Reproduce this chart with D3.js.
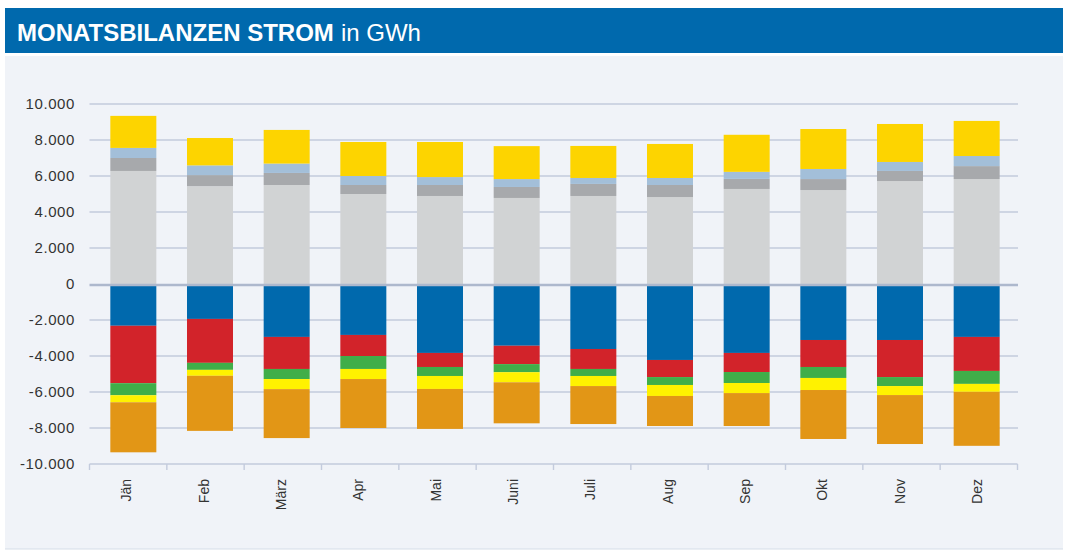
<!DOCTYPE html>
<html>
<head>
<meta charset="utf-8">
<script src="https://d3js.org/d3.v7.min.js"></script>
<style>
  body { margin: 0; background: #fff; }
  text { font-family: "Liberation Sans", Arial, sans-serif; }
</style>
</head>
<body>
<script>
// Monate
var months = ["Jän", "Feb", "März", "Apr", "Mai", "Juni", "Juli", "Aug", "Sep", "Okt", "Nov", "Dez"];

// Verwendung (positiv, von unten nach oben)
var endverbrauch = [6280, 5440, 5500, 5000, 4890, 4780, 4890, 4830, 5280, 5220, 5720, 5830];
var eigenbedarf  = [720, 610, 670, 500, 610, 610, 670, 670, 560, 610, 560, 720];
var pumpstrom    = [560, 540, 520, 500, 440, 440, 330, 390, 390, 560, 500, 560];
var exporte      = [1780, 1520, 1870, 1890, 1950, 1830, 1780, 1890, 2060, 2220, 2110, 1950];

// Aufbringung (negativ, von oben nach unten)
var wasserkraft  = [2320, 1940, 2940, 2830, 3830, 3430, 3610, 4220, 3830, 3110, 3110, 2940];
var waermekraft  = [3190, 2440, 1780, 1170, 780, 1020, 1110, 950, 1060, 1500, 2060, 1890];
var windkraft    = [670, 390, 560, 720, 500, 450, 390, 440, 610, 610, 500, 720];
var sonstige     = [390, 330, 560, 560, 720, 560, 560, 610, 560, 670, 500, 440];
var importe      = [2780, 3060, 2720, 2720, 2220, 2280, 2110, 1670, 1830, 2720, 2720, 3000];

var yTicks = [-10000, -8000, -6000, -4000, -2000, 0, 2000, 4000, 6000, 8000, 10000];

var series = [
  { key: "Endverbrauch", values: endverbrauch, sign: 1, color: "#d1d3d4" },
  { key: "Eigenbedarf", values: eigenbedarf, sign: 1, color: "#a7a9ac" },
  { key: "Pumpstrom", values: pumpstrom, sign: 1, color: "#a3bfd9" },
  { key: "Exporte", values: exporte, sign: 1, color: "#fdd400" },
  { key: "Wasserkraft", values: wasserkraft, sign: -1, color: "#0069ad" },
  { key: "Wärmekraft", values: waermekraft, sign: -1, color: "#d2232a" },
  { key: "Windkraft", values: windkraft, sign: -1, color: "#40ae49" },
  { key: "Sonstige", values: sonstige, sign: -1, color: "#fff200" },
  { key: "Importe", values: importe, sign: -1, color: "#e29616" }
];

var rows = months.map(function (m, i) {
  var r = { month: m };
  series.forEach(function (s) { r[s.key] = s.sign * s.values[i]; });
  return r;
});

var W = 1071, H = 550;
var svg = d3.select("body").append("svg")
  .attr("width", W)
  .attr("height", H);

// header
svg.append("rect")
  .attr("x", 5).attr("y", 8)
  .attr("width", 1058).attr("height", 45)
  .attr("fill", "#0069ad");
var title = svg.append("text")
  .attr("x", 17).attr("y", 40.5)
  .attr("fill", "#fff")
  .style("font-size", "24px");
title.append("tspan").attr("font-weight", "bold").text("MONATSBILANZEN STROM");
title.append("tspan").attr("dx", 7).text("in GWh");

// panel
svg.append("rect")
  .attr("x", 5).attr("y", 56)
  .attr("width", 1058).attr("height", 493)
  .attr("fill", "#f0f3f8");
svg.append("line")
  .attr("x1", 5).attr("x2", 1063)
  .attr("y1", 549).attr("y2", 549)
  .attr("stroke", "#d5dde8").attr("stroke-width", 1);

var y = d3.scaleLinear().domain([-10000, 10000]).range([464, 104]);
var xAxisScale = d3.scaleBand().domain(months).range([89.5, 1017.5]);
var x = d3.scaleBand().domain(months).range([95, 1015]).paddingInner(0.4).paddingOuter(0.2);

// gridlines
svg.append("g").selectAll("line")
  .data(yTicks.filter(function (d) { return d !== 0 && d !== -10000; }))
  .join("line")
    .attr("x1", 89.5).attr("x2", 1018)
    .attr("y1", function (d) { return y(d); })
    .attr("y2", function (d) { return y(d); })
    .attr("stroke", "#c3cbdd").attr("stroke-width", 1.6);

// y labels
svg.append("g").selectAll("text")
  .data(yTicks)
  .join("text")
    .attr("x", 75)
    .attr("y", function (d) { return y(d); })
    .attr("dy", "0.36em")
    .attr("text-anchor", "end")
    .attr("fill", "#333")
    .style("font-size", "15px")
    .style("letter-spacing", "0.6px")
    .text(function (d) { return d3.format(",")(d).replace(/,/g, ".").replace("−", "-"); });

// stacked bars
var stack = d3.stack()
  .keys(series.map(function (s) { return s.key; }))
  .offset(d3.stackOffsetDiverging);
var layers = stack(rows);

svg.append("g").selectAll("g")
  .data(layers)
  .join("g")
    .attr("fill", function (d, i) { return series[i].color; })
  .selectAll("rect")
  .data(function (d) { return d; })
  .join("rect")
    .attr("x", function (d) { return x(d.data.month); })
    .attr("width", x.bandwidth())
    .attr("y", function (d) { return y(Math.max(d[0], d[1])); })
    .attr("height", function (d) { return Math.abs(y(d[0]) - y(d[1])); });

// zero line
svg.append("line")
  .attr("x1", 89.5).attr("x2", 1018)
  .attr("y1", y(0) + 1).attr("y2", y(0) + 1)
  .attr("stroke", "#adb8cd").attr("stroke-width", 2.5);

// x axis
var ax = svg.append("g");
ax.append("line")
  .attr("x1", 89.5).attr("x2", 1017.5)
  .attr("y1", y(-10000)).attr("y2", y(-10000))
  .attr("stroke", "#c3cbdd").attr("stroke-width", 1.6);
ax.selectAll("line.tick")
  .data(months.concat(["end"]))
  .join("line")
    .attr("class", "tick")
    .attr("x1", function (d, i) { return 89.5 + i * xAxisScale.step(); })
    .attr("x2", function (d, i) { return 89.5 + i * xAxisScale.step(); })
    .attr("y1", y(-10000)).attr("y2", y(-10000) + 6)
    .attr("stroke", "#c3cbdd").attr("stroke-width", 1.4);
ax.selectAll("text")
  .data(months)
  .join("text")
    .attr("transform", function (d) {
      return "translate(" + (xAxisScale(d) + xAxisScale.bandwidth() / 2 - 2) + "," + 479 + ") rotate(-90)";
    })
    .attr("dy", "0.36em")
    .attr("text-anchor", "end")
    .attr("fill", "#333")
    .style("font-size", "14px")
    .text(function (d) { return d; });
</script>
</body>
</html>
